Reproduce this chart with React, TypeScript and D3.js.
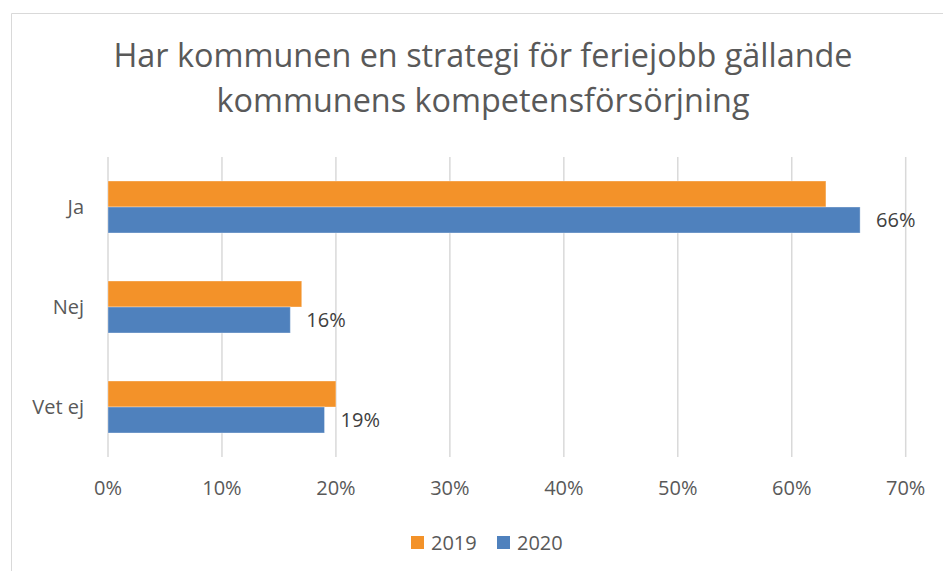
import React, { useEffect, useRef } from "react";
import * as d3 from "d3";

const categories = ["Ja", "Nej", "Vet ej"];
const seriesNames = ["2019", "2020"];
const values2019 = [63, 17, 20];
const values2020 = [66, 16, 19];
const xTicks = [0, 10, 20, 30, 40, 50, 60, 70];
const titleLines = [
    "Har kommunen en strategi för feriejobb gällande",
    "kommunens kompetensförsörjning",
];

const colorOrange = "#F39229";
const colorBlue = "#4F81BD";
const textColor = "#595959";
const fontFamily = "'Open Sans', sans-serif";

const App = () => {
    const svgRef = useRef<SVGSVGElement>(null);

    useEffect(() => {
        const svg = d3.select(svgRef.current);
        svg.selectAll("*").remove();

        const width = 943;
        const height = 571;
        const margin = { top: 157, right: 37, bottom: 114, left: 108 };

        svg.attr("width", width).attr("height", height);

        // chart frame (top + left edges visible)
        svg.append("line")
            .attr("x1", 11.5).attr("x2", width)
            .attr("y1", 13.5).attr("y2", 13.5)
            .attr("stroke", "#d9d9d9");
        svg.append("line")
            .attr("x1", 11.5).attr("x2", 11.5)
            .attr("y1", 13.5).attr("y2", height)
            .attr("stroke", "#d9d9d9");

        // title
        svg.append("text")
            .attr("x", 483)
            .attr("y", 67)
            .attr("text-anchor", "middle")
            .style("font-family", fontFamily)
            .style("font-size", "32.4px")
            .style("fill", textColor)
            .selectAll("tspan")
            .data(titleLines)
            .enter()
            .append("tspan")
            .attr("x", 483)
            .attr("dy", (d, i) => (i === 0 ? 0 : 45))
            .text((d) => d);

        const x = d3
            .scaleLinear()
            .domain([0, 70])
            .range([margin.left, width - margin.right - 0.3]);

        const y = d3
            .scaleBand()
            .domain(categories)
            .range([margin.top, height - margin.bottom])
            .paddingInner(0.48)
            .paddingOuter(0.24);

        const ySub = d3
            .scaleBand()
            .domain(seriesNames)
            .range([0, y.bandwidth()]);

        // gridlines
        svg.append("g")
            .selectAll("line")
            .data(xTicks)
            .enter()
            .append("line")
            .attr("x1", (d) => x(d))
            .attr("x2", (d) => x(d))
            .attr("y1", margin.top)
            .attr("y2", height - margin.bottom)
            .attr("stroke", "#d9d9d9")
            .attr("stroke-width", 1.5);

        // x tick labels
        svg.append("g")
            .selectAll("text")
            .data(xTicks)
            .enter()
            .append("text")
            .attr("x", (d) => x(d))
            .attr("y", 495)
            .attr("text-anchor", "middle")
            .style("font-family", fontFamily)
            .style("font-size", "20px")
            .style("fill", textColor)
            .text((d) => `${d}%`);

        // category labels
        svg.append("g")
            .selectAll("text")
            .data(categories)
            .enter()
            .append("text")
            .attr("x", 84)
            .attr("y", (d) => y(d)! + y.bandwidth() / 2)
            .attr("dy", "0.35em")
            .attr("text-anchor", "end")
            .style("font-family", fontFamily)
            .style("font-size", "20px")
            .style("fill", textColor)
            .text((d) => d);

        const seriesData = [
            { name: "2019", values: values2019, color: colorOrange },
            { name: "2020", values: values2020, color: colorBlue },
        ];

        // bars
        seriesData.forEach((s) => {
            svg.append("g")
                .selectAll("rect")
                .data(categories)
                .enter()
                .append("rect")
                .attr("x", x(0))
                .attr("y", (d) => y(d)! + ySub(s.name)!)
                .attr("width", (d, i) => x(s.values[i]) - x(0))
                .attr("height", ySub.bandwidth())
                .attr("fill", s.color)
                .attr("stroke", "#ffffff")
                .attr("stroke-opacity", 0.35)
                .attr("stroke-width", 1);
        });

        // data labels (2020 only)
        svg.append("g")
            .selectAll("text")
            .data(categories)
            .enter()
            .append("text")
            .attr("x", (d, i) => x(values2020[i]) + 16)
            .attr("y", (d) => y(d)! + ySub("2020")! + ySub.bandwidth() / 2)
            .attr("dy", "0.35em")
            .style("font-family", fontFamily)
            .style("font-size", "20px")
            .style("fill", "#404040")
            .text((d, i) => `${values2020[i]}%`);

        // legend
        const legendGroup = svg.append("g").attr("transform", "translate(411, 536)");
        const legendX = [0, 86];
        seriesData.forEach((s, i) => {
            legendGroup
                .append("rect")
                .attr("x", legendX[i])
                .attr("y", 0)
                .attr("width", 13)
                .attr("height", 13)
                .style("fill", s.color);
            legendGroup
                .append("text")
                .attr("x", legendX[i] + 20)
                .attr("y", 6.5)
                .attr("dy", "0.35em")
                .style("font-family", fontFamily)
                .style("font-size", "20px")
                .style("fill", textColor)
                .text(s.name);
        });
    }, []);

    return (
        <svg
            ref={svgRef}
            style={{ position: "absolute", left: 0, top: 0, background: "#ffffff" }}
        ></svg>
    );
};

export default App;
